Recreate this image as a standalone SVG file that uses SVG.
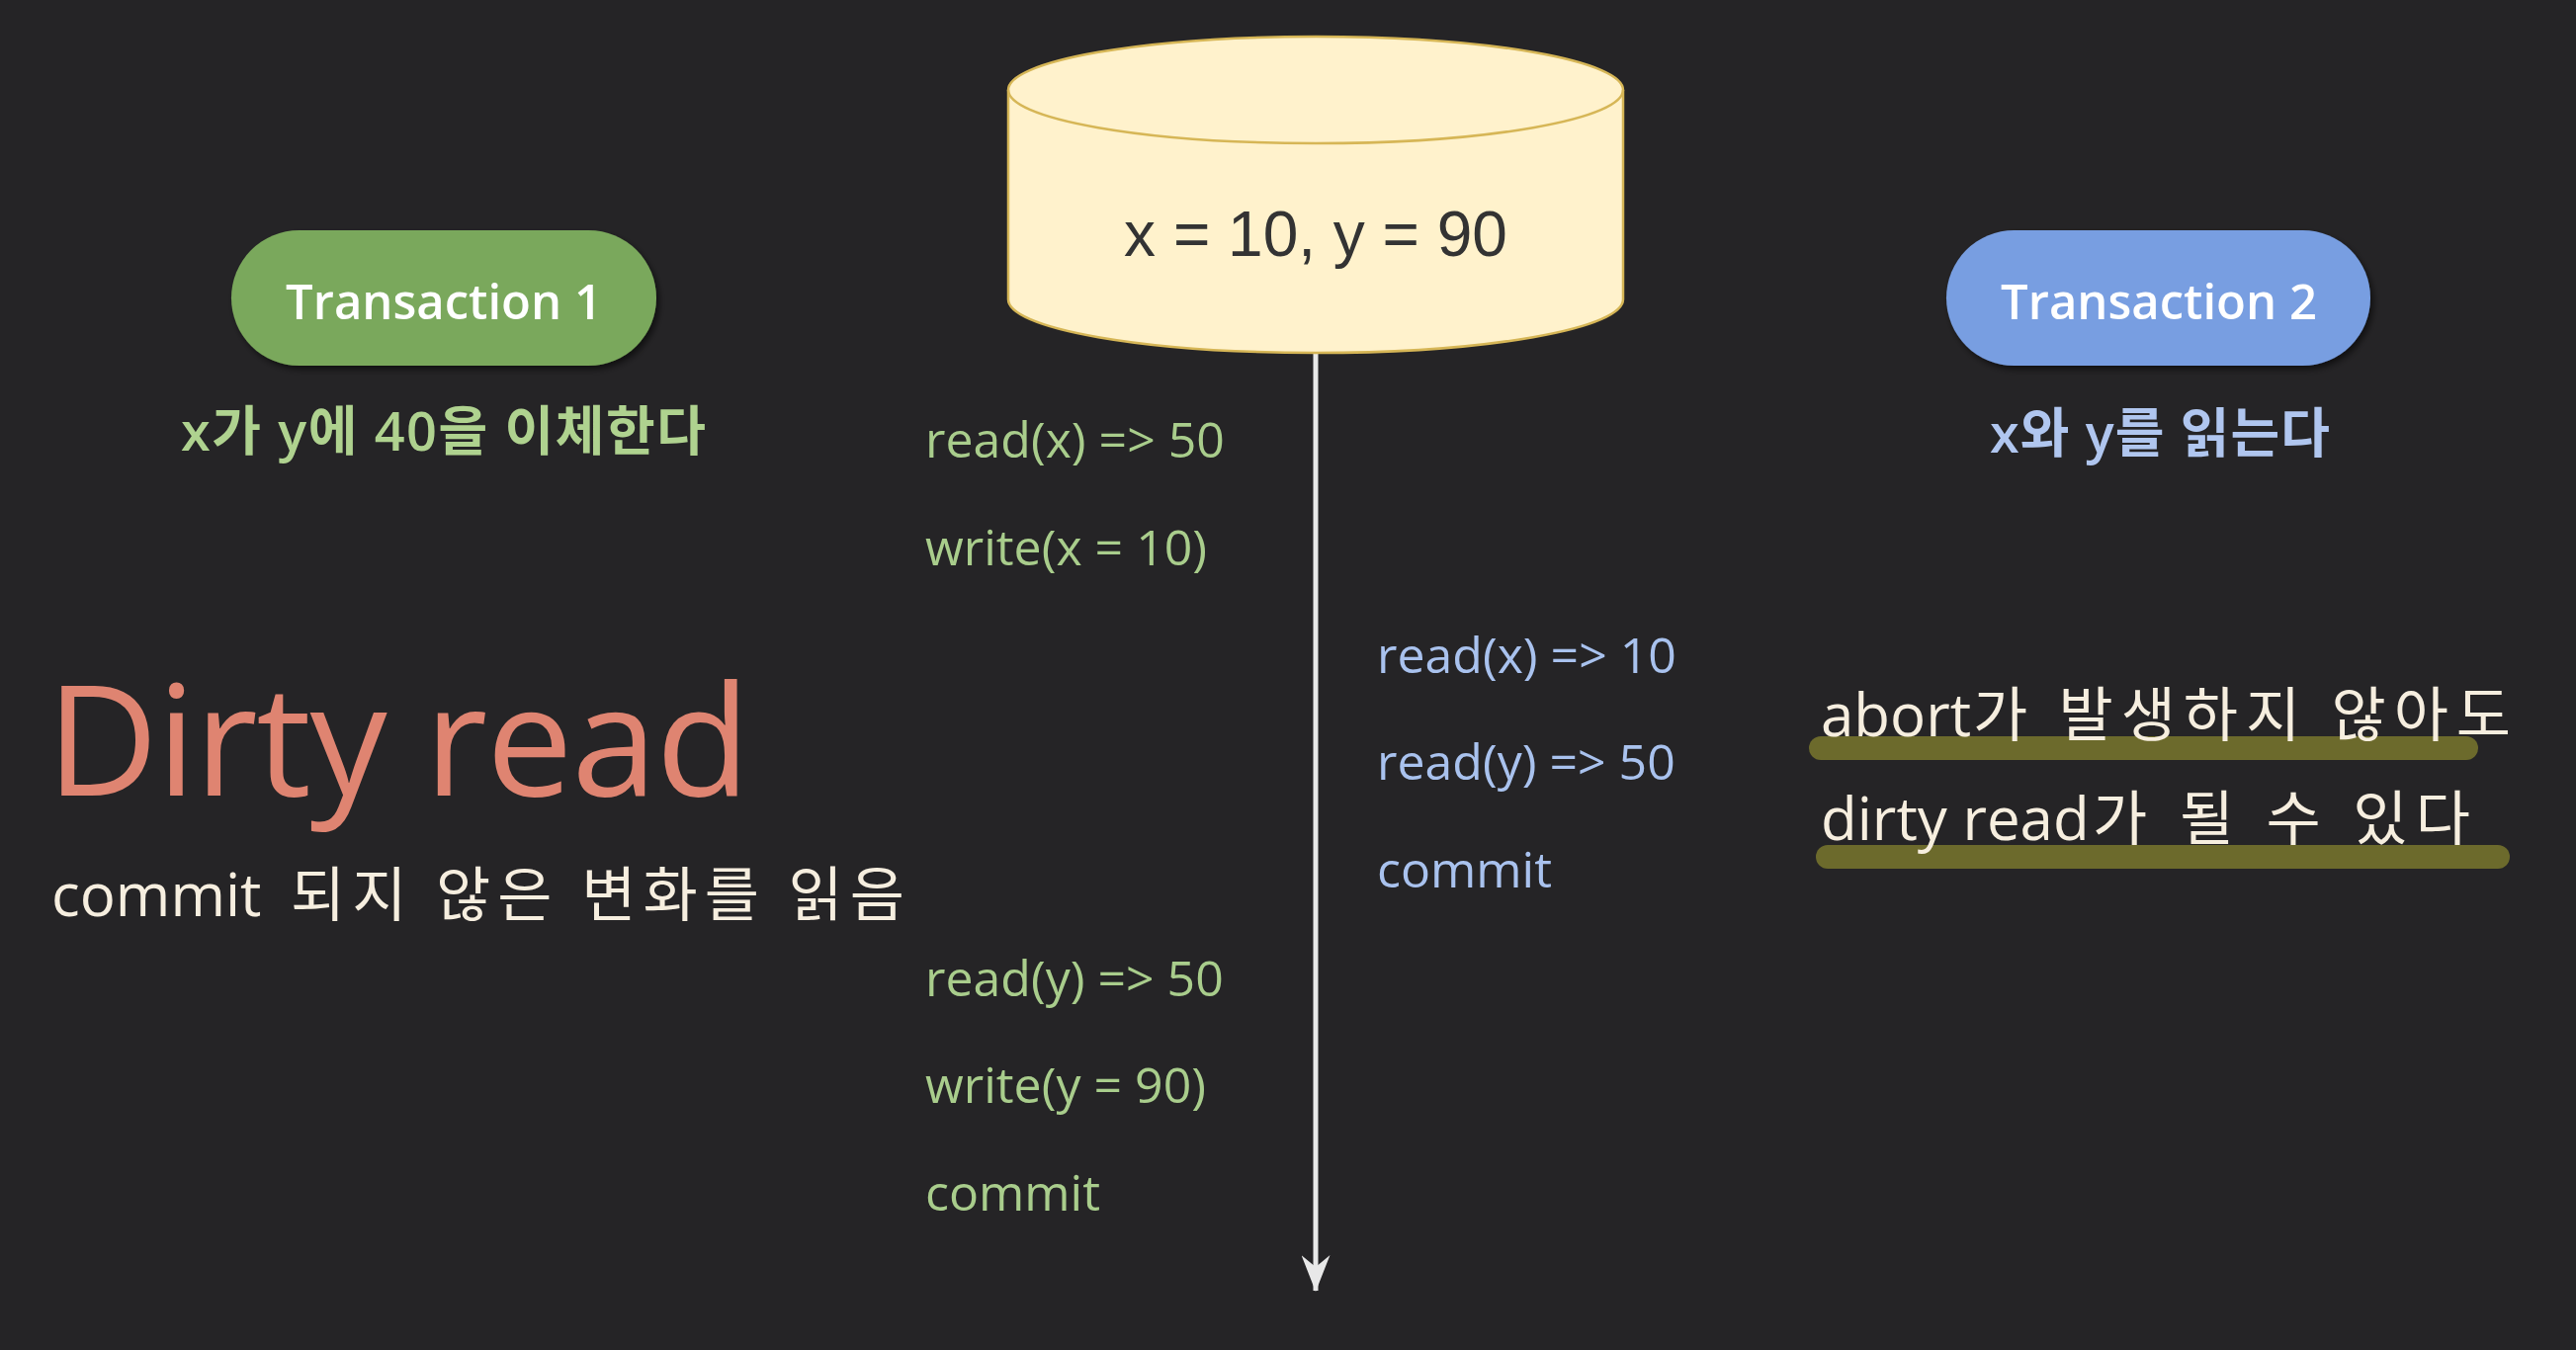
<svg xmlns="http://www.w3.org/2000/svg" width="2606" height="1366" viewBox="0 0 2606 1366">
<defs>
<style>
.ui{font-family:"Open Sans","Noto Sans CJK KR",sans-serif;}
.op1{font-family:"Open Sans",sans-serif;font-size:50px;fill:#a9cd8c;}
.op2{font-family:"Open Sans",sans-serif;font-size:50px;fill:#a9c2ee;}
.pilltxt{font-family:"Open Sans",sans-serif;font-size:49px;font-weight:600;fill:#ffffff;text-anchor:middle;}
.desc{font-family:"Open Sans","Noto Sans CJK KR",sans-serif;font-size:54px;font-weight:600;}
.note{font-family:"Open Sans","Noto Sans CJK KR",sans-serif;font-size:60px;fill:#f6eedf;}
.hl{stroke:#6c6a2c;stroke-width:24;stroke-linecap:round;fill:none;}
</style>
<filter id="sh" x="-10%" y="-20%" width="130%" height="150%">
<feDropShadow dx="3" dy="4" stdDeviation="3" flood-color="#000" flood-opacity="0.55"/>
</filter>
<marker id="arr" viewBox="0 0 37 29" refX="36" refY="14.5" markerWidth="37" markerHeight="29" markerUnits="userSpaceOnUse" orient="auto">
<path d="M0,0 L37,14.5 L0,29 L12,14.5 Z" fill="#e8e8e8"/>
</marker>
</defs>
<rect width="2606" height="1366" fill="#252426"/>

<g id="connectors">
<line x1="1331" y1="357" x2="1331" y2="1306" stroke="#e8e8e8" stroke-width="5" marker-end="url(#arr)"/>
</g>

<g id="db">
<path d="M1020,91 A311,54 0 0,1 1642,91 L1642,303 A311,54 0 0,1 1020,303 Z" fill="#fff2cc" stroke="#d6b656" stroke-width="2.5"/>
<path d="M1020,91 A311,54 0 0,0 1642,91" fill="none" stroke="#d6b656" stroke-width="2.5"/>
<text x="1331" y="259" font-family="Liberation Sans, Arial, sans-serif" font-size="64" fill="#333333" text-anchor="middle">x = 10, y = 90</text>
</g>

<g id="transaction1">
<rect x="234" y="233" width="430" height="137" rx="68.5" fill="#7aa85b" filter="url(#sh)"/>
<text class="pilltxt" x="449" y="323">Transaction 1</text>
<text class="desc" x="183" y="456" fill="#afd28f" textLength="531" lengthAdjust="spacing">x가 y에 40을 이체한다</text>
</g>

<g id="transaction2">
<rect x="1969" y="233" width="429" height="137" rx="68.5" fill="#789ee1" filter="url(#sh)"/>
<text class="pilltxt" x="2184" y="323">Transaction 2</text>
<text class="desc" x="2013" y="458" fill="#b0c6ef" textLength="344" lengthAdjust="spacing">x와 y를 읽는다</text>
</g>

<g id="t1-ops">
<text class="op1" x="936" y="463">read(x) =&gt; 50</text>
<text class="op1" x="936" y="572">write(x = 10)</text>
<text class="op1" x="936" y="1008">read(y) =&gt; 50</text>
<text class="op1" x="936" y="1116">write(y = 90)</text>
<text class="op1" x="936" y="1225">commit</text>
</g>

<g id="t2-ops">
<text class="op2" x="1393" y="681">read(x) =&gt; 10</text>
<text class="op2" x="1393" y="789">read(y) =&gt; 50</text>
<text class="op2" x="1393" y="898">commit</text>
</g>

<g id="title">
<text class="ui" x="47" y="805" font-size="156" fill="#df8471" textLength="712" lengthAdjust="spacing">Dirty read</text>
<text class="note" y="927"><tspan x="52">commit</tspan><tspan x="294" textLength="621" lengthAdjust="spacing">되지 않은 변화를 읽음</tspan></text>
</g>

<g id="note">
<line class="hl" x1="1842" y1="757" x2="2495" y2="757"/>
<line class="hl" x1="1849" y1="867" x2="2527" y2="867"/>
<text class="note" y="745"><tspan x="1842">abort</tspan><tspan x="1996" textLength="544" lengthAdjust="spacing">가 발생하지 않아도</tspan></text>
<text class="note" y="850"><tspan x="1842">dirty read</tspan><tspan x="2117" textLength="382" lengthAdjust="spacing">가 될 수 있다</tspan></text>
</g>
</svg>
